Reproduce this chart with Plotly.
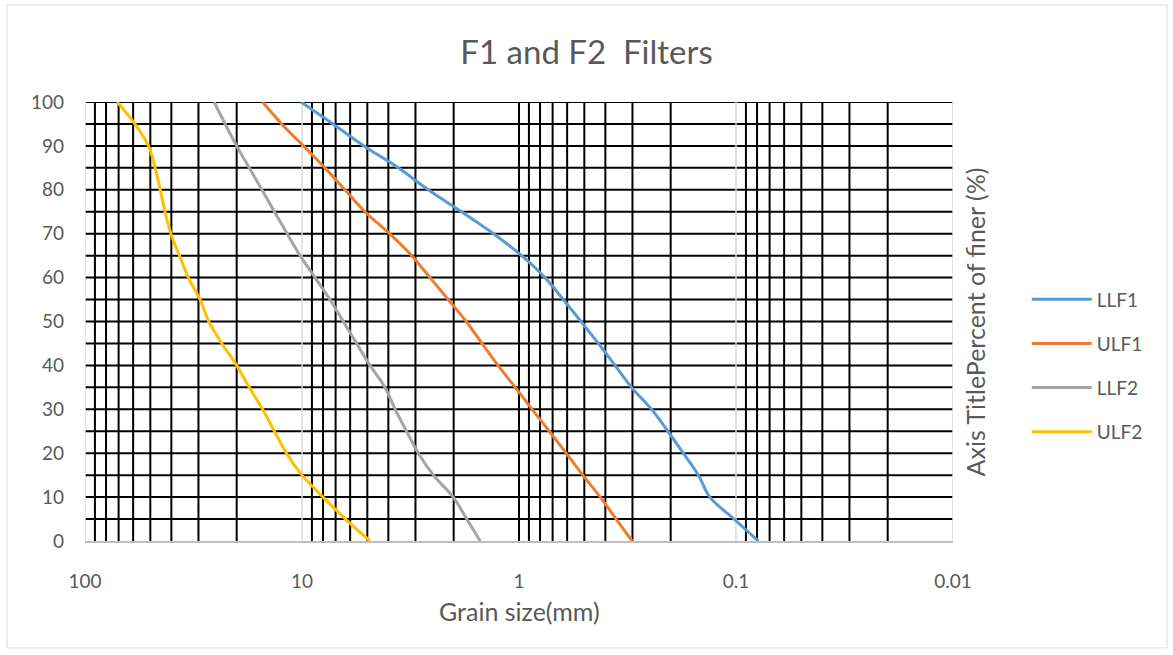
import plotly.graph_objects as go

# ---------------- data ----------------
percent = [100, 95, 90, 85, 80, 75, 70, 65, 60, 55, 50, 45, 40, 35, 30, 25, 20, 15, 10, 5, 0]

llf1 = [10.1, 7.2, 5.18, 3.60, 2.62, 1.84, 1.31, 0.972, 0.759, 0.625, 0.518,
        0.431, 0.361, 0.303, 0.245, 0.206, 0.175, 0.149, 0.132, 0.102, 0.0789]
ulf1 = [15.2, 12.4, 9.86, 7.84, 6.34, 5.13, 3.95, 3.12, 2.57, 2.12, 1.75,
        1.48, 1.25, 1.04, 0.87, 0.725, 0.606, 0.508, 0.422, 0.357, 0.301]
llf2 = [25.4, 22.6, 20.0, 17.5, 15.3, 13.4, 11.7, 10.2, 8.71, 7.44, 6.45,
        5.60, 4.86, 4.15, 3.72, 3.30, 2.91, 2.48, 2.01, 1.74, 1.51]
ulf2 = [71.0, 58.9, 51.0, 47.5, 45.0, 42.8, 40.2, 36.7, 33.4, 29.5, 26.9,
        23.4, 20.0, 17.5, 15.2, 13.4, 11.8, 10.0, 8.0, 6.3, 4.86]

series_names = ["LLF1", "ULF1", "LLF2", "ULF2"]
series_values = [llf1, ulf1, llf2, ulf2]
series_colors = ["#5B9BD5", "#ED7D31", "#A5A5A5", "#FFC000"]

x_tick_vals = [100, 10, 1, 0.1, 0.01]
x_tick_text = ["100", "10", "1", "0.1", "0.01"]
y_tick_vals = list(range(0, 101, 10))
decades = [10, 1, 0.1, 0.01]
minor_mult = [2, 3, 4, 5, 6, 7, 8, 9]

title_text = "F1 and F2  Filters"
x_title = "Grain size(mm)"
y_title = "Axis TitlePercent of finer (%)"

FONT = "Lato"
TXT = "#595959"

fig = go.Figure()
for name, vals, col in zip(series_names, series_values, series_colors):
    fig.add_trace(go.Scatter(
        x=vals, y=percent, name=name, mode="lines",
        line=dict(color=col, width=3, shape="spline", smoothing=1.0),
        legendgroup=name,
    ))

shapes = []
# black minor vertical gridlines (2..9 x decade) + line at 1
vx = [m * d for d in decades for m in minor_mult] + [1]
for v in vx:
    shapes.append(dict(type="line", xref="x", yref="y", x0=v, x1=v, y0=0, y1=100,
                       line=dict(color="black", width=2), layer="below"))
# light major vertical gridlines
for v in [100, 10, 0.1, 0.01]:
    shapes.append(dict(type="line", xref="x", yref="y", x0=v, x1=v, y0=0, y1=100,
                       line=dict(color="#D9D9D9", width=1.5), layer="below"))
# black horizontal gridlines every 5
for h in range(5, 101, 5):
    shapes.append(dict(type="line", xref="paper", yref="y", x0=0, x1=1, y0=h, y1=h,
                       line=dict(color="black", width=2), layer="below"))
# outer chart border
shapes.append(dict(type="rect", xref="paper", yref="paper",
                   x0=-0.0899, x1=1.2465, y0=-0.2437, y1=1.221,
                   line=dict(color="#D9D9D9", width=1), layer="below"))

fig.update_layout(
    width=1173, height=655,
    margin=dict(l=85, r=220, t=102, b=114),
    paper_bgcolor="white", plot_bgcolor="white",
    font=dict(family=FONT, color=TXT, size=19),
    title=dict(text=title_text, x=0.5, xref="container", xanchor="center",
               y=1 - 52 / 655, yref="container", yanchor="middle",
               font=dict(family=FONT, size=33, color=TXT)),
    xaxis=dict(type="log", range=[2, -2], tickvals=x_tick_vals, ticktext=x_tick_text,
               showgrid=False, zeroline=False, showline=True, linecolor="#BFBFBF",
               linewidth=2, ticks="", ticklabelstandoff=22,
               tickfont=dict(family=FONT, size=19, color=TXT)),
    yaxis=dict(range=[0, 100], tickvals=y_tick_vals, showgrid=False, zeroline=False,
               showline=False, ticks="", ticklabelstandoff=20,
               tickfont=dict(family=FONT, size=19, color=TXT)),
    shapes=shapes,
    showlegend=True,
    legend=dict(x=1.085, y=0.399, xanchor="left", yanchor="middle",
                font=dict(family=FONT, size=19, color=TXT),
                tracegroupgap=16.5, itemwidth=60, bgcolor="rgba(0,0,0,0)"),
    annotations=[
        dict(text=x_title, xref="paper", yref="paper", x=0.5, y=-0.1595,
             xanchor="center", yanchor="middle", showarrow=False,
             font=dict(family=FONT, size=25, color=TXT)),
        dict(text=y_title, xref="paper", yref="paper", x=1.0253, y=0.5,
             xanchor="center", yanchor="middle", showarrow=False, textangle=-90,
             font=dict(family=FONT, size=25, color=TXT)),
    ],
)

fig.write_html("out.html")
